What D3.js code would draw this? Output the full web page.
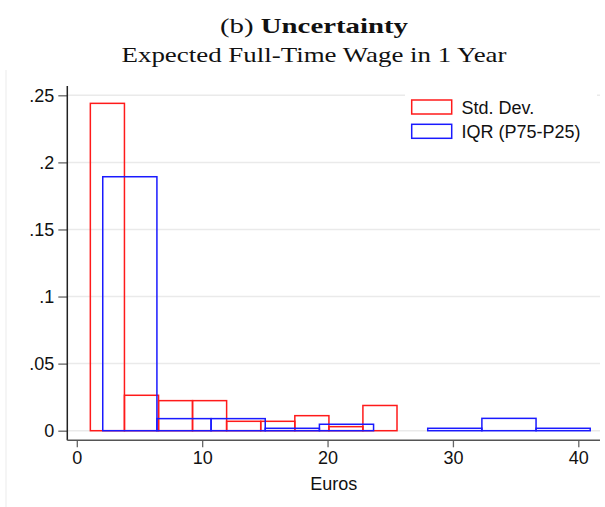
<!DOCTYPE html>
<html lang="en">
<head>
  <meta charset="UTF-8">
  <title>uncertainty</title>
  <style>
    body { margin: 0; background: #fff; }
    svg text { font-family: "Liberation Sans", Arial, sans-serif; fill: #111; }
    .title text { font-family: "Liberation Serif", "Times New Roman", serif; }
  </style>
  <script src="https://cdn.jsdelivr.net/npm/d3@7"></script>
</head>
<body>
<svg id="chart"></svg>
<script>
  const width = 605, height = 507;

  // histogram bins (Euros) and densities
  const sdEdges = [1.08, 3.80, 6.52, 9.23, 11.95, 14.67, 17.39, 20.11, 22.82, 25.54];
  const sdDensity = [0.244, 0.0264, 0.0224, 0.0224, 0.0070, 0.0070, 0.0112, 0.0030, 0.0188];
  const iqrEdges = [2.07, 6.39, 10.71, 15.03, 19.35, 23.67, 27.99, 32.31, 36.63, 40.95];
  const iqrDensity = [0.1893, 0.009, 0.009, 0.0018, 0.0048, 0, 0.0018, 0.0092, 0.0018];

  const xTicks = [0, 10, 20, 30, 40];
  const yTicks = [0, 0.05, 0.1, 0.15, 0.2, 0.25];
  const yTickLabels = ['0', '.05', '.1', '.15', '.2', '.25'];
  const legendLabels = ['Std. Dev.', 'IQR (P75-P25)'];
  const colors = ['#ff1a1a', '#1a1aff'];

  const svg = d3.select('#chart')
    .attr('width', width)
    .attr('height', height);

  const x = d3.scaleLinear().domain([0, 40]).range([76.8, 578.3]);
  const y = d3.scaleLinear().domain([0, 0.25]).range([430.7, 95.3]);

  const plotLeft = 67.3, plotRight = 600, plotTop = 86, plotBottom = 440.3;

  // faint outer border on the left
  svg.append('line')
    .attr('x1', 6).attr('x2', 6)
    .attr('y1', 70).attr('y2', height)
    .attr('stroke', '#f2f2f2')
    .attr('stroke-width', 1.5);

  // title
  const title = svg.append('g').attr('class', 'title');
  const t1 = title.append('text')
    .attr('x', 314).attr('y', 33)
    .attr('text-anchor', 'middle')
    .attr('font-size', 21)
    .attr('textLength', 188)
    .attr('lengthAdjust', 'spacingAndGlyphs');
  t1.append('tspan').text('(b) ');
  t1.append('tspan').attr('font-weight', 'bold').text('Uncertainty');
  title.append('text')
    .attr('x', 314).attr('y', 62)
    .attr('text-anchor', 'middle')
    .attr('font-size', 21)
    .attr('textLength', 385)
    .attr('lengthAdjust', 'spacingAndGlyphs')
    .text('Expected Full-Time Wage in 1 Year');

  // grid
  svg.append('g')
    .selectAll('line')
    .data(yTicks)
    .join('line')
    .attr('x1', plotLeft).attr('x2', plotRight)
    .attr('y1', d => y(d)).attr('y2', d => y(d))
    .attr('stroke', '#eaeaea')
    .attr('stroke-width', 1.5);

  // bars
  const bars = (edges, dens, color) => {
    const bins = dens.map((d, i) => ({x0: edges[i], x1: edges[i + 1], d}))
      .filter(b => b.d > 0);
    svg.append('g')
      .selectAll('rect')
      .data(bins)
      .join('rect')
      .attr('x', b => x(b.x0))
      .attr('y', b => y(b.d))
      .attr('width', b => x(b.x1) - x(b.x0))
      .attr('height', b => y(0) - y(b.d))
      .attr('fill', 'none')
      .attr('stroke', color)
      .attr('stroke-width', 1.5);
  };
  bars(sdEdges, sdDensity, colors[0]);
  bars(iqrEdges, iqrDensity, colors[1]);

  // y axis
  const yAxis = svg.append('g')
    .attr('transform', `translate(${plotLeft},0)`)
    .call(d3.axisLeft(y).tickValues(yTicks)
      .tickFormat((d, i) => yTickLabels[i])
      .tickSize(9).tickSizeOuter(0).tickPadding(4));
  yAxis.select('.domain').remove();
  yAxis.selectAll('.tick line').attr('stroke', '#666').attr('stroke-width', 1.3);
  yAxis.selectAll('.tick text').attr('font-size', 18).attr('fill', '#111')
    .attr('font-family', '"Liberation Sans", Arial, sans-serif');
  svg.append('line')
    .attr('x1', plotLeft).attr('x2', plotLeft)
    .attr('y1', plotTop).attr('y2', plotBottom)
    .attr('stroke', '#222').attr('stroke-width', 1.5);

  // x axis
  const xAxis = svg.append('g')
    .attr('transform', `translate(0,${plotBottom})`)
    .call(d3.axisBottom(x).tickValues(xTicks)
      .tickSize(7).tickSizeOuter(0).tickPadding(4));
  xAxis.select('.domain').remove();
  xAxis.selectAll('.tick line').attr('stroke', '#666').attr('stroke-width', 1.3);
  xAxis.selectAll('.tick text').attr('font-size', 18).attr('fill', '#111')
    .attr('font-family', '"Liberation Sans", Arial, sans-serif');
  svg.append('line')
    .attr('x1', plotLeft).attr('x2', plotRight)
    .attr('y1', plotBottom).attr('y2', plotBottom)
    .attr('stroke', '#555').attr('stroke-width', 1.5);

  svg.append('text')
    .attr('x', (plotLeft + plotRight) / 2)
    .attr('y', 490)
    .attr('text-anchor', 'middle')
    .attr('font-size', 18)
    .text('Euros');

  // legend
  const legend = svg.append('g');
  legend.append('rect')
    .attr('x', 405).attr('y', 92)
    .attr('width', 192).attr('height', 52)
    .attr('fill', '#fff');
  const item = legend.selectAll('g.item')
    .data(legendLabels)
    .join('g')
    .attr('class', 'item')
    .attr('transform', (d, i) => `translate(0,${i * 24.3})`);
  item.append('rect')
    .attr('x', 411.7).attr('y', 100)
    .attr('width', 40).attr('height', 14)
    .attr('fill', 'none')
    .attr('stroke', (d, i) => colors[i])
    .attr('stroke-width', 1.5);
  item.append('text')
    .attr('x', 461.5).attr('y', 114)
    .attr('font-size', 18)
    .text(d => d);
</script>
</body>
</html>
